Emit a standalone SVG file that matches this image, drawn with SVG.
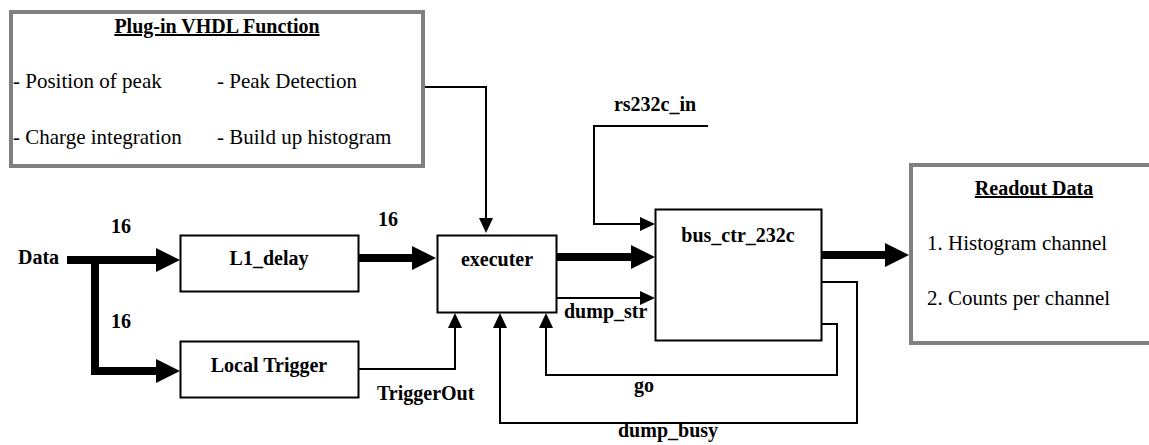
<svg xmlns="http://www.w3.org/2000/svg" width="1149" height="445" viewBox="0 0 1149 445">
  <style>
    .box { fill: #ffffff; stroke: #000000; stroke-width: 2; }
    .panel { fill: #ffffff; stroke: #808080; stroke-width: 4; }
    .mid { text-anchor: middle; }
    .bus { fill: none; stroke: #000000; stroke-width: 8; }
    .wire { fill: none; stroke: #000000; stroke-width: 2; }
  </style>
  <defs>
    <!-- heavy head for 16-bit buses: tip lies 12px past the path end -->
    <marker id="headBus" markerUnits="userSpaceOnUse" markerWidth="24" markerHeight="24" refX="12" refY="12" orient="auto" viewBox="0 0 24 24">
      <path d="M0 0 L24 12 L0 24 z" fill="#000000"/>
    </marker>
    <!-- light head for single wires: tip lies 7px past the path end -->
    <marker id="headWire" markerUnits="userSpaceOnUse" markerWidth="15" markerHeight="14" refX="8" refY="7" orient="auto" viewBox="0 0 15 14">
      <path d="M0 0 L15 7 L0 14 z" fill="#000000"/>
    </marker>
  </defs>

  <rect x="0" y="0" width="1149" height="445" fill="#ffffff"/>

  <!-- plug-in function panel -->
  <g id="plugin">
    <rect class="panel" x="11" y="12" width="412" height="154"/>
    <text class="mid" x="217" y="33" style="font-family: 'Liberation Serif', serif; font-size: 20px; font-weight: bold; text-decoration: underline">Plug-in VHDL Function</text>
    <text x="13" y="88" style="font-family: 'Liberation Serif', serif; font-size: 21px">- Position of peak</text>
    <text x="217" y="88" style="font-family: 'Liberation Serif', serif; font-size: 21px">- Peak Detection</text>
    <text x="13" y="144" style="font-family: 'Liberation Serif', serif; font-size: 21px">- Charge integration</text>
    <text x="217" y="144" style="font-family: 'Liberation Serif', serif; font-size: 21px">- Build up histogram</text>
  </g>

  <!-- readout panel -->
  <g id="readout">
    <rect class="panel" x="911" y="165" width="250" height="178"/>
    <text class="mid" x="1034" y="195" style="font-family: 'Liberation Serif', serif; font-size: 20px; font-weight: bold; text-decoration: underline">Readout Data</text>
    <text x="927" y="250" style="font-family: 'Liberation Serif', serif; font-size: 21px">1. Histogram channel</text>
    <text x="927" y="305" style="font-family: 'Liberation Serif', serif; font-size: 21px">2. Counts per channel</text>
  </g>

  <g id="l1delay">
    <rect class="box" x="180.5" y="235.5" width="178" height="56"/>
    <text class="mid" x="269" y="265" style="font-family: 'Liberation Serif', serif; font-size: 20px; font-weight: bold">L1_delay</text>
  </g>

  <g id="localtrigger">
    <rect class="box" x="180.5" y="341.5" width="178" height="56"/>
    <text class="mid" x="269" y="372" style="font-family: 'Liberation Serif', serif; font-size: 20px; font-weight: bold">Local Trigger</text>
  </g>

  <g id="executer">
    <rect class="box" x="437.5" y="235.5" width="119" height="77"/>
    <text class="mid" x="497" y="266" style="font-family: 'Liberation Serif', serif; font-size: 20px; font-weight: bold">executer</text>
  </g>

  <g id="busctr">
    <rect class="box" x="655.5" y="209.5" width="166" height="131"/>
    <text class="mid" x="738" y="242" style="font-family: 'Liberation Serif', serif; font-size: 20px; font-weight: bold">bus_ctr_232c</text>
  </g>

  <!-- signals -->
  <g id="connectors">
    <path class="bus" d="M67 260 H168" marker-end="url(#headBus)"/>
    <path class="bus" d="M95 260 V371 H168" marker-end="url(#headBus)"/>
    <path class="bus" d="M359 258 H424" marker-end="url(#headBus)"/>
    <path class="bus" d="M557 257 H643" marker-end="url(#headBus)"/>
    <path class="bus" d="M822 255 H897" marker-end="url(#headBus)"/>

    <path class="wire" d="M425 87 H486 V226" marker-end="url(#headWire)"/>
    <path class="wire" d="M708 126 H594 V224 H648" marker-end="url(#headWire)"/>
    <path class="wire" d="M557 298 H648" marker-end="url(#headWire)"/>
    <path class="wire" d="M359 369 H455 V320" marker-end="url(#headWire)"/>
    <path class="wire" d="M822 324 H837 V375 H546 V320" marker-end="url(#headWire)"/>
    <path class="wire" d="M822 282 H857 V423 H500 V320" marker-end="url(#headWire)"/>

    <text x="18" y="264" style="font-family: 'Liberation Serif', serif; font-size: 20px; font-weight: bold">Data</text>
    <text class="mid" x="121" y="233" style="font-family: 'Liberation Serif', serif; font-size: 20px; font-weight: bold">16</text>
    <text class="mid" x="121" y="328" style="font-family: 'Liberation Serif', serif; font-size: 20px; font-weight: bold">16</text>
    <text class="mid" x="388" y="226" style="font-family: 'Liberation Serif', serif; font-size: 20px; font-weight: bold">16</text>
    <text class="mid" x="655" y="111" style="font-family: 'Liberation Serif', serif; font-size: 20px; font-weight: bold">rs232c_in</text>
    <text x="564" y="318" style="font-family: 'Liberation Serif', serif; font-size: 20px; font-weight: bold">dump_str</text>
    <text x="377" y="400" style="font-family: 'Liberation Serif', serif; font-size: 20px; font-weight: bold">TriggerOut</text>
    <text x="634" y="392" style="font-family: 'Liberation Serif', serif; font-size: 20px; font-weight: bold">go</text>
    <text x="618" y="437" style="font-family: 'Liberation Serif', serif; font-size: 20px; font-weight: bold">dump_busy</text>
  </g>
</svg>
